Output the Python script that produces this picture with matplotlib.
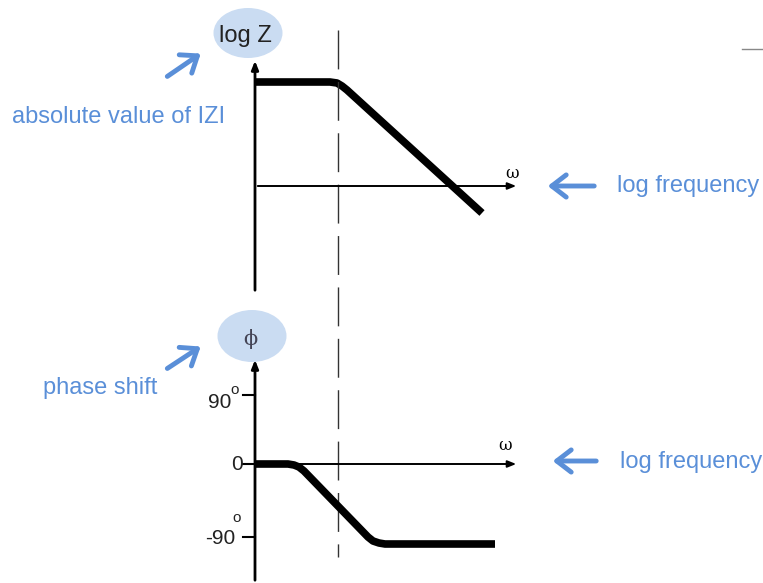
import matplotlib.pyplot as plt
from matplotlib.patches import Ellipse

# curve control points (pixel coords of the sketch)
mag_x = [255, 330, 337, 342, 347, 482]
mag_y = [82, 82, 83, 86, 90, 213]
ph_x = [255, 288, 294, 299, 304, 368, 373, 379, 385, 495]
ph_y = [464, 464, 465, 467, 471, 537, 541, 543, 544, 544]

ph_ticks = [395, 464, 537]
ph_labels = ['90', '0', '-90']

blue = '#5a8fd8'
pale = '#cadcf2'

fig = plt.figure(figsize=(7.63, 5.83), dpi=100)
ax = fig.add_axes([0, 0, 1, 1])
ax.set_xlim(0, 763)
ax.set_ylim(583, 0)
ax.axis('off')

font = 'Liberation Sans'
bl_arrow = dict(arrowstyle='->,head_length=0.65,head_width=0.5', lw=3.5, color=blue,
                mutation_scale=16)
k_arrow = dict(arrowstyle='-|>,head_length=0.5,head_width=0.2', color='black')

# ---- top: magnitude
ax.add_patch(Ellipse((248, 33), 69, 50, color=pale, lw=0))
ax.text(245, 36, 'log Z', fontsize=17, family=font, ha='center', va='center', color='#222222')
ax.annotate('', xy=(255, 58), xytext=(255, 293), arrowprops=dict(k_arrow, lw=2))
ax.annotate('', xy=(519, 186), xytext=(255, 186), arrowprops=dict(k_arrow, lw=1.4))
ax.text(512, 174, 'ω', fontsize=12, ha='center', va='center', family='DejaVu Serif')
ax.plot(mag_x, mag_y, color='black', lw=5.5, solid_joinstyle='round', solid_capstyle='butt')

ax.annotate('', xy=(203, 52), xytext=(165, 78), arrowprops=bl_arrow)
ax.text(12, 117, 'absolute value of IZI', fontsize=17, family=font, color=blue, va='center')
ax.annotate('', xy=(545, 186), xytext=(597, 186), arrowprops=bl_arrow)
ax.text(617, 186, 'log frequency', fontsize=17, family=font, color=blue, va='center')

# dashed corner line
ax.plot([338, 338], [30, 557], color='#333333', lw=1, dashes=(28, 9))

# small mark top right
ax.plot([742, 763], [49, 49], color='#888888', lw=1)

# ---- bottom: phase
ax.add_patch(Ellipse((252, 336), 69, 52, color=pale, lw=0))
ax.text(250, 339, 'ϕ', fontsize=15, ha='center', va='center', family='DejaVu Serif',
        color='#444455')
ax.annotate('', xy=(255, 357), xytext=(255, 583), arrowprops=dict(k_arrow, lw=2))
ax.annotate('', xy=(519, 464), xytext=(255, 464), arrowprops=dict(k_arrow, lw=1.4))
ax.text(505, 446, 'ω', fontsize=12, ha='center', va='center', family='DejaVu Serif')
ax.plot(ph_x, ph_y, color='black', lw=5.5, solid_joinstyle='round', solid_capstyle='butt')

lab_pos = {'90': (231, 403), '0': (243, 464), '-90': (235, 539)}
for yt, lab in zip(ph_ticks, ph_labels):
    ax.plot([243, 255], [yt, yt], color='black', lw=1.5)
    lx, ly = lab_pos[lab]
    ax.text(lx, ly, lab, fontsize=15, family=font, ha='right', va='center', color='#222222')
ax.text(235, 390, 'o', fontsize=11, family=font, ha='center', va='center', color='#222222')
ax.text(237, 518, 'o', fontsize=11, family=font, ha='center', va='center', color='#222222')

ax.annotate('', xy=(203, 345), xytext=(165, 370), arrowprops=bl_arrow)
ax.text(43, 388, 'phase shift', fontsize=17, family=font, color=blue, va='center')
ax.annotate('', xy=(550, 461), xytext=(599, 461), arrowprops=bl_arrow)
ax.text(620, 462, 'log frequency', fontsize=17, family=font, color=blue, va='center')

fig.savefig('out.png', dpi=100)
